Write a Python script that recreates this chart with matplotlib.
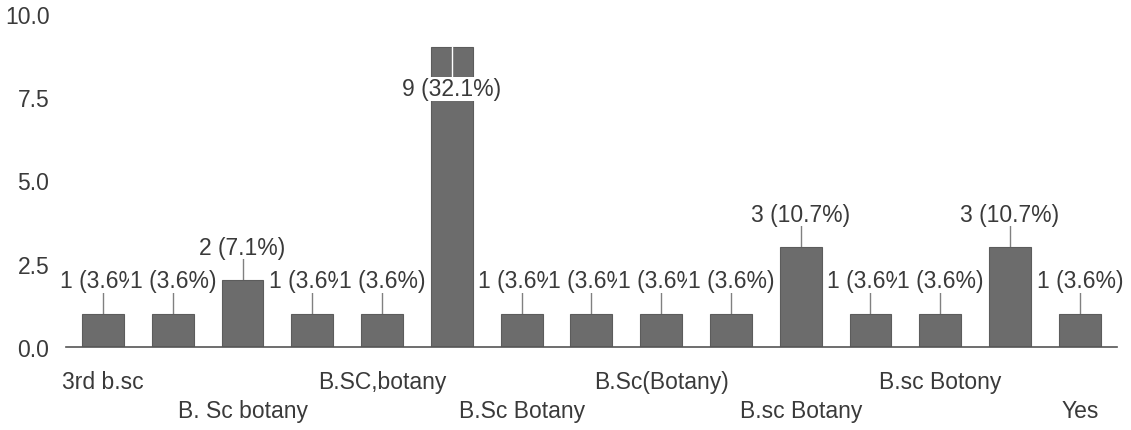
import numpy as np
import matplotlib
matplotlib.use("Agg")
import matplotlib.pyplot as plt

# --- Data -------------------------------------------------------------------
counts = [1, 1, 2, 1, 1, 9, 1, 1, 1, 1, 3, 1, 1, 3, 1]
percents = [3.6, 3.6, 7.1, 3.6, 3.6, 32.1, 3.6, 3.6, 3.6, 3.6, 10.7, 3.6, 3.6, 10.7, 3.6]
# only every other category name is printed on the axis
tick_pos = [0, 2, 4, 6, 8, 10, 12, 14]
tick_labels = ["3rd b.sc", "B. Sc botany", "B.SC,botany", "B.Sc Botany",
               "B.Sc(Botany)", "B.sc Botany", "B.sc Botony", "Yes"]
yticks = [0.0, 2.5, 5.0, 7.5, 10.0]

TXT = "#3a3a3a"
BAR = "#6c6c6c"
plt.rcParams["font.family"] = ["Liberation Sans", "DejaVu Sans"]

fig = plt.figure(figsize=(11.31, 4.31), dpi=100)
ax = fig.add_axes([0.0584, 0.193, 0.929, 0.773])

x = np.arange(len(counts))
ax.bar(x, counts, width=0.6, color=BAR, edgecolor="#5c5c5c", linewidth=0.8, zorder=2)

ax.set_xlim(-0.53, len(counts) - 0.47)
ax.set_ylim(0, 10)
ax.set_yticks(yticks, labels=[f"{t:.1f}" for t in yticks])
ax.tick_params(axis="y", length=0, pad=12, labelsize=16.5, labelcolor=TXT)
ax.set_xticks([])

# staggered category labels, two rows
for k, (p, lab) in enumerate(zip(tick_pos, tick_labels)):
    yy = -0.105 if k % 2 == 0 else -0.19
    ax.text(p, yy, lab, transform=ax.get_xaxis_transform(), ha="center",
            va="center", fontsize=16.5, color=TXT)

# value labels with leader lines; each label has a white box so that a
# neighbouring label drawn later covers the end of the previous one
for xi, c, pc in zip(x, counts, percents):
    lab = f"{c} ({pc:.1f}%)"
    box = dict(facecolor="white", edgecolor="none", pad=0.3)
    if c + 1.0 > 9.5:
        # too tall: label sits inside the bar, leader drawn light
        ax.plot([xi, xi], [c, c - 0.95], color="white", lw=1, zorder=3)
        ax.text(xi, c - 1.25, lab, ha="center", va="center", fontsize=16.5,
                color=TXT, zorder=4, bbox=box)
    else:
        ax.plot([xi, xi], [c, c + 0.65], color="#808080", lw=1, zorder=1)
        ax.text(xi, c + 0.98, lab, ha="center", va="center", fontsize=16.5,
                color=TXT, zorder=4, bbox=box)

for s in ["top", "right", "left"]:
    ax.spines[s].set_visible(False)
ax.spines["bottom"].set_color("#555555")
ax.spines["bottom"].set_linewidth(1.2)

fig.savefig("out.png", dpi=100)
